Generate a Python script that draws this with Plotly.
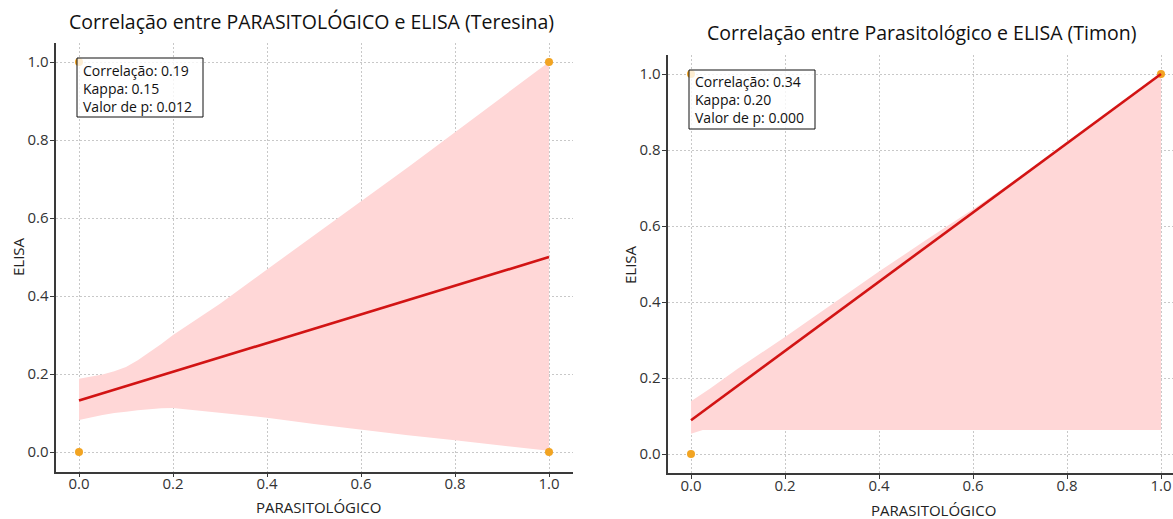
import plotly.graph_objects as go

# ---------------- data ----------------
# Teresina (left panel)
ter_points_x = [0, 0, 1, 1]
ter_points_y = [0, 1, 0, 1]
ter_line_x = [0, 1]
ter_line_y = [0.132, 0.50]
ter_ci_x = [0.0, 0.05, 0.075, 0.1, 0.125, 0.15, 0.175, 0.2, 0.3, 0.4, 0.5, 0.6, 0.7, 0.8, 0.9, 1.0]
ter_ci_upper = [0.188, 0.199, 0.207, 0.218, 0.235, 0.255, 0.277, 0.30, 0.38, 0.468, 0.555, 0.641,
                0.73, 0.82, 0.91, 1.0]
ter_ci_lower = [0.082, 0.095, 0.10, 0.103, 0.107, 0.11, 0.112, 0.113, 0.10, 0.088, 0.072, 0.057,
                0.043, 0.03, 0.017, 0.003]
ter_stats = ["Correlação: 0.19", "Kappa: 0.15", "Valor de p: 0.012"]

# Timon (right panel)
tim_points_x = [0, 0, 1]
tim_points_y = [0, 1, 1]
tim_line_x = [0, 1]
tim_line_y = [0.089, 1.0]
tim_ci_x = [0.0, 0.025, 0.04, 0.1, 0.2, 0.3, 0.4, 0.5, 0.6, 0.7, 0.8, 0.9, 1.0]
tim_ci_upper = [0.139, 0.160, 0.172, 0.225, 0.308, 0.394, 0.480, 0.563, 0.644, 0.729, 0.818, 0.909, 1.0]
tim_ci_lower = [0.053, 0.063, 0.063, 0.063, 0.063, 0.063, 0.063, 0.063, 0.063, 0.063, 0.063, 0.063, 0.063]
tim_stats = ["Correlação: 0.34", "Kappa: 0.20", "Valor de p: 0.000"]

tick_vals = [0.0, 0.2, 0.4, 0.6, 0.8, 1.0]
tick_text = ["0.0", "0.2", "0.4", "0.6", "0.8", "1.0"]

titles = ["Correlação entre PARASITOLÓGICO e ELISA (Teresina)",
          "Correlação entre Parasitológico e ELISA (Timon)"]
x_title = "PARASITOLÓGICO"
y_title = "ELISA"

# ---------------- style ----------------
W, H = 1173, 519
FONT = "Open Sans, DejaVu Sans, sans-serif"
BAND = "#ffd7d7"
RED = "#d21414"
ORANGE = "#f2a422"
SPINE = "#3a3a3a"
GRID = "#c8c8c8"

fig = go.Figure()


def add_panel(xa, ya, ci_x, up, lo, lx, ly, px, py):
    fig.add_trace(go.Scatter(
        x=list(ci_x) + list(ci_x)[::-1], y=list(up) + list(lo)[::-1],
        fill="toself", fillcolor=BAND, line=dict(width=0),
        mode="lines", hoverinfo="skip", showlegend=False, xaxis=xa, yaxis=ya))
    fig.add_trace(go.Scatter(
        x=px, y=py, mode="markers", marker=dict(color=ORANGE, size=8),
        showlegend=False, xaxis=xa, yaxis=ya))
    fig.add_trace(go.Scatter(
        x=lx, y=ly, mode="lines", line=dict(color=RED, width=2.6),
        showlegend=False, xaxis=xa, yaxis=ya))


add_panel("x", "y", ter_ci_x, ter_ci_upper, ter_ci_lower, ter_line_x, ter_line_y,
          ter_points_x, ter_points_y)
add_panel("x2", "y2", tim_ci_x, tim_ci_upper, tim_ci_lower, tim_line_x, tim_line_y,
          tim_points_x, tim_points_y)

axis_common = dict(
    tickvals=tick_vals, ticktext=tick_text,
    showline=True, linecolor=SPINE, linewidth=1.8,
    ticks="outside", ticklen=4, tickcolor=SPINE, tickwidth=1.2,
    showgrid=True, gridcolor=GRID, griddash="2px,2px", gridwidth=1,
    zeroline=False, tickfont=dict(family=FONT, size=15, color="#333333"),
    fixedrange=True,
)
x_extra = dict(ticklabelstandoff=-6)
y_extra = dict(ticklabelstandoff=-2)


def px_x(p):
    return p / W


def px_y(p):
    return 1 - p / H


fig.update_layout(
    width=W, height=H, margin=dict(l=0, r=0, t=0, b=0),
    paper_bgcolor="white", plot_bgcolor="white",
    font=dict(family=FONT, color="#222222"),
    xaxis=dict(domain=[px_x(55.5), px_x(572.5)], range=[-0.05, 1.05],
               anchor="y", **axis_common, **x_extra),
    yaxis=dict(domain=[px_y(471.5), px_y(42.5)], range=[-0.05, 1.05],
               anchor="x", **axis_common, **y_extra),
    xaxis2=dict(domain=[px_x(667.5), 1.0], range=[-0.05, (W - 691) / 470.0],
                anchor="y2", **axis_common, **x_extra),
    yaxis2=dict(domain=[px_y(473), px_y(55)], range=[-0.05, 1.05],
                anchor="x2", **axis_common, **y_extra),
)

ann = []
shapes = []


def txt(text, x, y, size, xanchor="center", angle=0, color="#222222", align="center"):
    ann.append(dict(text=text, x=px_x(x), y=px_y(y), xref="paper", yref="paper",
                    xanchor=xanchor, yanchor="middle", showarrow=False, textangle=angle,
                    align=align, borderpad=0,
                    font=dict(family=FONT, size=size, color=color)))


# titles
txt(titles[0], 311, 22, 19.5, color="#111111")
txt(titles[1], 922, 32, 19.5, color="#111111")
# axis titles
txt(x_title, 318, 507, 15)
txt(x_title, 933, 510, 15)
txt(y_title, 18, 257, 15, angle=-90)
txt(y_title, 630, 265, 15, angle=-90)


# stats boxes
def stats_box(lines, left, top, right, bottom):
    shapes.append(dict(type="rect", xref="paper", yref="paper", layer="above",
                       x0=px_x(left), x1=px_x(right), y0=px_y(bottom), y1=px_y(top),
                       fillcolor="rgba(255,255,255,0.8)", line=dict(color="#111111", width=1)))
    txt("<br>".join(lines), left + 4.5, (top + bottom) / 2 + 0.5, 14,
        xanchor="left", color="#111111", align="left")


stats_box(ter_stats, 77, 58, 203, 117)
stats_box(tim_stats, 689, 70, 815, 129)

fig.update_layout(annotations=ann, shapes=shapes)

fig.write_html("out.html", config={"displayModeBar": False},
               post_script="document.body.style.margin='0';")
